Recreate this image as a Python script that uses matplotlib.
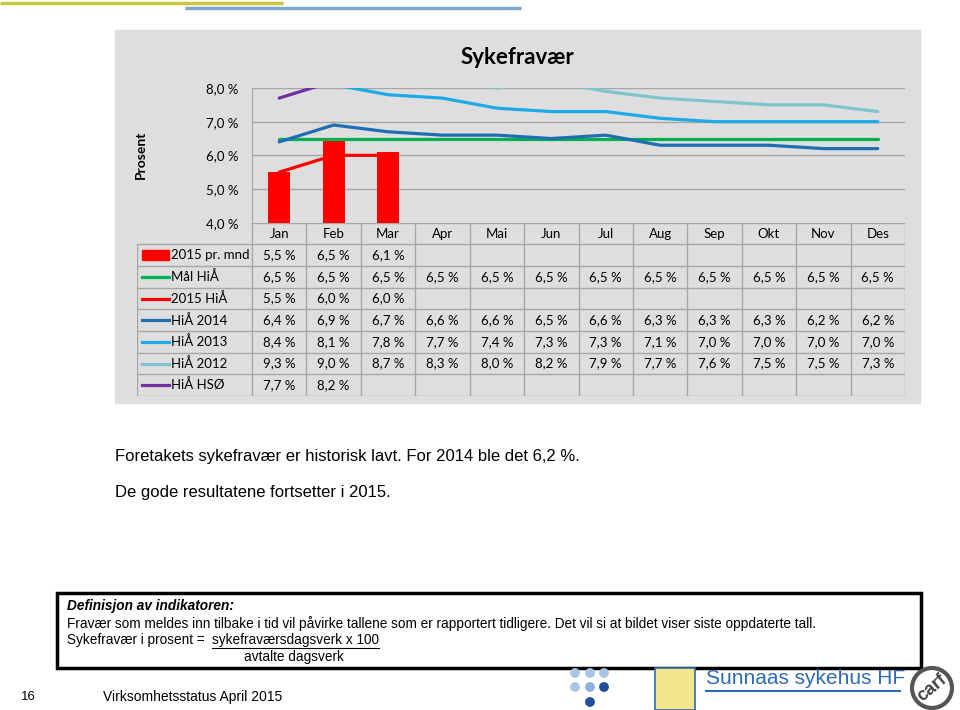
import numpy as np
import matplotlib
matplotlib.use('Agg')
import matplotlib.pyplot as plt
from matplotlib.patches import Rectangle, Circle

months = ['Jan', 'Feb', 'Mar', 'Apr', 'Mai', 'Jun', 'Jul', 'Aug', 'Sep', 'Okt', 'Nov', 'Des']
nan = np.nan
per_mnd_2015 = [5.5, 6.5, 6.1, nan, nan, nan, nan, nan, nan, nan, nan, nan]
maal_hia = [6.5, 6.5, 6.5, 6.5, 6.5, 6.5, 6.5, 6.5, 6.5, 6.5, 6.5, 6.5]
hia_2015 = [5.5, 6.0, 6.0, nan, nan, nan, nan, nan, nan, nan, nan, nan]
hia_2014 = [6.4, 6.9, 6.7, 6.6, 6.6, 6.5, 6.6, 6.3, 6.3, 6.3, 6.2, 6.2]
hia_2013 = [8.4, 8.1, 7.8, 7.7, 7.4, 7.3, 7.3, 7.1, 7.0, 7.0, 7.0, 7.0]
hia_2012 = [9.3, 9.0, 8.7, 8.3, 8.0, 8.2, 7.9, 7.7, 7.6, 7.5, 7.5, 7.3]
hia_hso = [7.7, 8.2, nan, nan, nan, nan, nan, nan, nan, nan, nan, nan]
y_ticks = [4.0, 5.0, 6.0, 7.0, 8.0]

line_series = [
    ('Mål HiÅ', maal_hia, '#00B050'),
    ('2015 HiÅ', hia_2015, '#FF0000'),
    ('HiÅ 2014', hia_2014, '#1F6EB4'),
    ('HiÅ 2013', hia_2013, '#1DAAE6'),
    ('HiÅ 2012', hia_2012, '#7EC4CC'),
    ('HiÅ HSØ', hia_hso, '#7030A0'),
]
bar_label, bar_color = '2015 pr. mnd', '#FF0000'

W, H = 960, 710
chart_font = ['Lato', 'DejaVu Sans']
slide_font = ['Liberation Sans', 'DejaVu Sans']
grid_c = '#A6A6A6'


def fr(x0, y0, x1, y1):
    # pixel box (top-left origin) -> figure fraction rect
    return [x0 / W, 1 - y1 / H, (x1 - x0) / W, (y1 - y0) / H]


def pct(v):
    return '' if np.isnan(v) else f'{v:.1f} %'.replace('.', ',')


fig = plt.figure(figsize=(W / 100, H / 100), dpi=100)

# background / slide layer in pixel coordinates
bg = fig.add_axes([0, 0, 1, 1], zorder=0)
bg.set_xlim(0, W)
bg.set_ylim(H, 0)
bg.axis('off')
bg.add_patch(Rectangle((115, 30), 805, 373, color='#DEDEDE', zorder=0))
bg.plot([0, 283], [3, 3], color='#C9C83A', lw=2.5, solid_capstyle='butt')
bg.plot([185, 521], [8, 8], color='#7FA8CF', lw=2.5, solid_capstyle='butt')

bg.text(517, 57, 'Sykefravær', family=chart_font, fontsize=16, fontweight='bold',
        ha='center', va='center')
bg.text(141, 155, 'Prosent', family=chart_font, fontsize=10, fontweight='bold',
        rotation=90, ha='center', va='center')

bg.text(115, 456, 'Foretakets sykefravær er historisk lavt. For 2014 ble det 6,2 %.',
        family=slide_font, fontsize=12, va='center')
bg.text(115, 492, 'De gode resultatene fortsetter i 2015.',
        family=slide_font, fontsize=12, va='center')

bg.add_patch(Rectangle((57, 593), 864, 75, fill=False, ec='black', lw=2.5))
bg.text(67, 606, 'Definisjon av indikatoren:', family=slide_font, fontsize=9.8,
        fontweight='bold', style='italic', va='center')
bg.text(67, 624, 'Fravær som meldes inn tilbake i tid vil påvirke tallene som er rapportert tidligere. '
        'Det vil si at bildet viser siste oppdaterte tall.', family=slide_font, fontsize=9.8, va='center')
bg.text(67, 640, 'Sykefravær i prosent =', family=slide_font, fontsize=9.8, va='center')
bg.text(212, 640, 'sykefraværsdagsverk x 100', family=slide_font, fontsize=9.8, va='center')
bg.plot([212, 379], [648, 648], color='black', lw=0.8)
bg.text(294, 657, 'avtalte dagsverk', family=slide_font, fontsize=9.8, va='center', ha='center')

bg.text(28, 697, '16', family=slide_font, fontsize=9.5, va='center', ha='center')
bg.text(103, 697, 'Virksomhetsstatus April 2015', family=slide_font, fontsize=10, va='center')

# logos (simplified)
for (cx, cy, c) in [(575, 673, '#A9C4E4'), (590, 673, '#A9C4E4'), (604, 673, '#A9C4E4'),
                    (575, 687, '#A9C4E4'), (590, 687, '#8FB0DA'), (604, 687, '#1F4E9A'),
                    (590, 702, '#1F4E9A')]:
    bg.add_patch(Circle((cx, cy), 4.2, color=c))
bg.add_patch(Rectangle((655, 668), 40, 42, fc='#F3E58A', ec='#2E6BB3', lw=1.2))
bg.text(706, 678, 'Sunnaas sykehus HF', family=slide_font, fontsize=15, color='#2E6BB3',
        va='center')
bg.plot([706, 900], [691, 691], color='#2E6BB3', lw=1.5)
bg.add_patch(Circle((932, 688), 20, fill=False, ec='#555555', lw=3))
bg.text(932, 688, 'carf', family=slide_font, fontsize=13, fontweight='bold', color='#444444',
        ha='center', va='center', rotation=40)

# chart
x = np.arange(len(months))
ax = fig.add_axes(fr(252, 88, 905, 222.7), zorder=2)
ax.set_facecolor('none')
ax.bar(x, per_mnd_2015, width=0.4, color=bar_color, zorder=2)
for name, vals, col in line_series:
    ax.plot(x, vals, color=col, lw=2.3, solid_capstyle='round', zorder=3)
ax.set_xlim(-0.5, len(months) - 0.5)
ax.set_ylim(4, 8)
ax.set_yticks(y_ticks)
ax.set_yticklabels([pct(v) for v in y_ticks], family=chart_font, fontsize=9.5)
ax.tick_params(axis='y', length=0, pad=10)
ax.set_xticks([])
for v in y_ticks[1:]:
    ax.axhline(v, color=grid_c, lw=1, zorder=1)
for s in ['top', 'right', 'bottom']:
    ax.spines[s].set_visible(False)
ax.spines['left'].set_color(grid_c)

# data table under chart, sharing the month scale
n_rows = len(line_series) + 1
leg_left = -0.5 - (252 - 137) / ((905 - 252) / 12)
tb = fig.add_axes(fr(137, 222.7, 905, 396), zorder=2)
tb.set_facecolor('none')
tb.set_xlim(leg_left, len(months) - 0.5)
tb.set_ylim(n_rows + 1, 0)
tb.axis('off')

# grid
for i in range(len(months) + 1):
    tb.plot([i - 0.5, i - 0.5], [0, n_rows + 1], color=grid_c, lw=1)
tb.plot([leg_left, leg_left], [1, n_rows + 1], color=grid_c, lw=1)
tb.plot([-0.5, len(months) - 0.5], [0, 0], color=grid_c, lw=1)
for r in range(1, n_rows + 2):
    tb.plot([leg_left, len(months) - 0.5], [r, r], color=grid_c, lw=1)

for i, m in enumerate(months):
    tb.text(i, 0.5, m, family=chart_font, fontsize=9.5, ha='center', va='center')

rows = [(bar_label, per_mnd_2015, bar_color, 'bar')] + [(n, v, c, 'line') for n, v, c in line_series]
key_x0, key_x1 = leg_left + 0.09, leg_left + 0.59
for r, (name, vals, col, kind) in enumerate(rows):
    yc = r + 1.5
    if kind == 'bar':
        tb.add_patch(Rectangle((key_x0, yc - 0.22), key_x1 - key_x0, 0.44, color=col))
    else:
        tb.plot([key_x0, key_x1], [yc, yc], color=col, lw=2.3)
    tb.text(key_x1 + 0.03, yc, name, family=chart_font, fontsize=9.5, ha='left', va='center')
    for i, v in enumerate(vals):
        tb.text(i, yc, pct(v), family=chart_font, fontsize=9.5, ha='center', va='center')

fig.savefig('out.png', dpi=100)
